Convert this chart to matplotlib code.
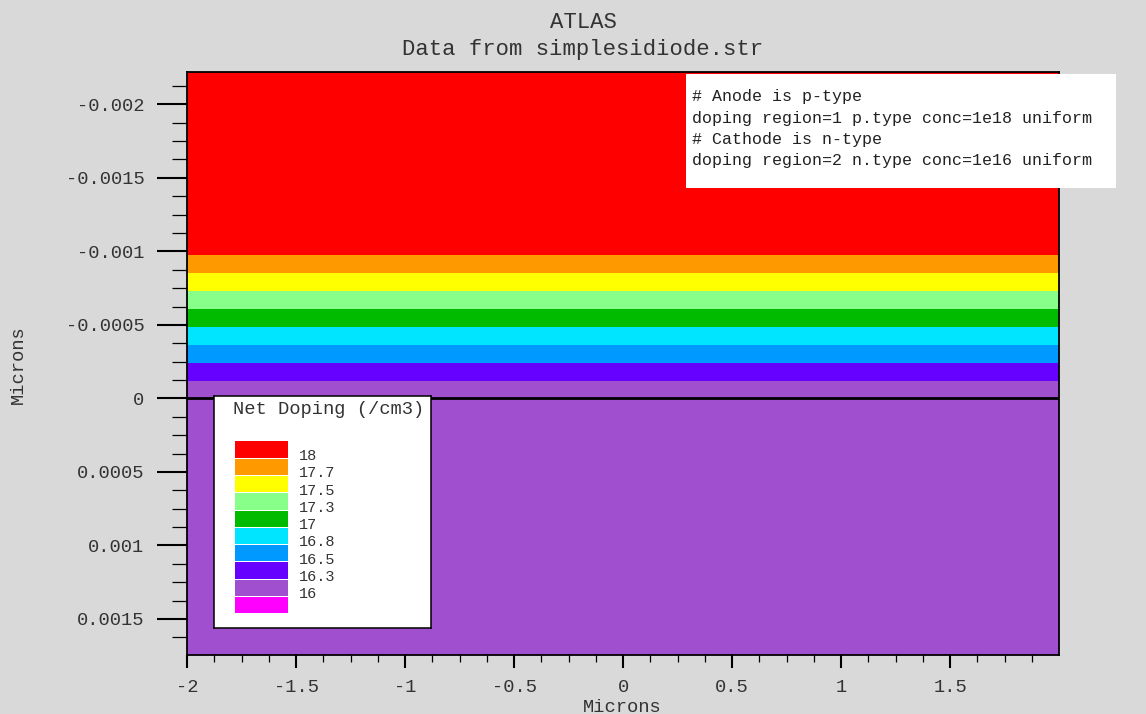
"""ATLAS net doping plot for simplesidiode.str."""

import matplotlib

matplotlib.use("Agg")
import matplotlib.pyplot as plt
import numpy as np
from matplotlib.colors import BoundaryNorm, ListedColormap
from matplotlib.patches import Rectangle
from matplotlib.ticker import FuncFormatter, MultipleLocator

# contour levels of log10(net doping) and their fill colours (low -> high)
levels = [16, 16.3, 16.5, 16.8, 17, 17.3, 17.5, 17.7, 18]
level_colors = [
    "#FF00FF", "#A050CE", "#6600FF", "#0099FF", "#00E5FF",
    "#00BB00", "#88FF88", "#FFFF00", "#FF9900", "#FF0000",
]

# 1-D doping profile: band edges in depth (microns) and log10 doping per band
depth_edges = [-0.00222, -0.000973, -0.00085, -0.000728, -0.000605,
               -0.000483, -0.000361, -0.000238, -0.000116, 0.001745]
band_log_doping = [18.0, 17.85, 17.6, 17.4, 17.15, 16.9, 16.65, 16.4, 16.15]
x_edges = [-2.0, 1.999]

deck_lines = [
    "# Anode is p-type",
    "doping region=1 p.type conc=1e18 uniform",
    "# Cathode is n-type",
    "doping region=2 n.type conc=1e16 uniform",
]

plt.rcParams["font.family"] = ["Liberation Mono", "DejaVu Sans Mono"]
plt.rcParams["axes.unicode_minus"] = False

W, H = 1146, 714
fig = plt.figure(figsize=(W / 100, H / 100), dpi=100)
fig.patch.set_facecolor("#D9D9D9")


def fx(px):
    return px / W


def fy(py):
    return 1 - py / H


ax = fig.add_axes([fx(187), fy(655), fx(1059) - fx(187), fy(72) - fy(655)])

cmap = ListedColormap(level_colors)
norm = BoundaryNorm(levels, ncolors=len(level_colors), extend="both")
C = np.array(band_log_doping).reshape(-1, 1)
ax.pcolormesh(x_edges, depth_edges, C, cmap=cmap, norm=norm, shading="flat")
ax.axhline(0, color="black", lw=2)

ax.set_xlim(x_edges[0], x_edges[-1])
ax.set_ylim(depth_edges[-1], depth_edges[0])

ax.xaxis.set_major_locator(MultipleLocator(0.5))
ax.xaxis.set_minor_locator(MultipleLocator(0.125))
ax.yaxis.set_major_locator(MultipleLocator(0.0005))
ax.yaxis.set_minor_locator(MultipleLocator(0.000125))
fmt = FuncFormatter(lambda v, p: f"{round(v, 6):g}")
ax.xaxis.set_major_formatter(fmt)
ax.yaxis.set_major_formatter(fmt)

ax.tick_params(axis="y", which="major", length=21.6, width=1.5, pad=9,
               labelsize=13.5, labelcolor="#333333")
ax.tick_params(axis="y", which="minor", length=10.8, width=0.9)
ax.tick_params(axis="x", which="major", length=9.4, width=1.5, pad=8,
               labelsize=13.5, labelcolor="#333333")
ax.tick_params(axis="x", which="minor", length=5, width=0.9)
for s in ax.spines.values():
    s.set_linewidth(1.3)

fig.text(fx(18), fy(365), "Microns", rotation=90, ha="center", va="center",
         fontsize=13.5, color="#333333")
fig.text(fx(622), fy(707), "Microns", ha="center", va="center",
         fontsize=13.5, color="#333333")
fig.text(fx(583), fy(22), "ATLAS", ha="center", va="center",
         fontsize=16, color="#333333")
fig.text(fx(583), fy(50), "Data from simplesidiode.str", ha="center",
         va="center", fontsize=16, color="#333333")

# deck annotation box
fig.add_artist(Rectangle((fx(686), fy(188)), fx(1116) - fx(686),
                         fy(74) - fy(188), transform=fig.transFigure,
                         facecolor="white", edgecolor="none", zorder=5))
for i, line in enumerate(deck_lines):
    fig.text(fx(692), fy(97 + 21.3 * i), line, ha="left", va="center",
             fontsize=12, color="#222222", zorder=6)

# legend
lax = fig.add_axes([fx(214), fy(628), fx(431) - fx(214), fy(396) - fy(628)])
lax.set_xlim(0, 217)
lax.set_ylim(232, 0)
lax.set_facecolor("white")
lax.set_xticks([])
lax.set_yticks([])
for s in lax.spines.values():
    s.set_linewidth(1.1)
n = len(level_colors)
ypos = [53.5 + 17.3 * i for i in range(n)]
lax.barh(ypos, 53, left=21, height=16.3, color=level_colors[::-1])
lax.text(19, 14, "Net Doping (/cm3)", ha="left", va="center",
         fontsize=13.5, color="#333333")
for i, lv in enumerate(levels[::-1]):
    lax.text(85, 60 + 17.3 * i, f"{lv:g}", ha="left", va="center",
             fontsize=11, color="#333333")

fig.savefig("out.png", dpi=100, facecolor=fig.get_facecolor())
